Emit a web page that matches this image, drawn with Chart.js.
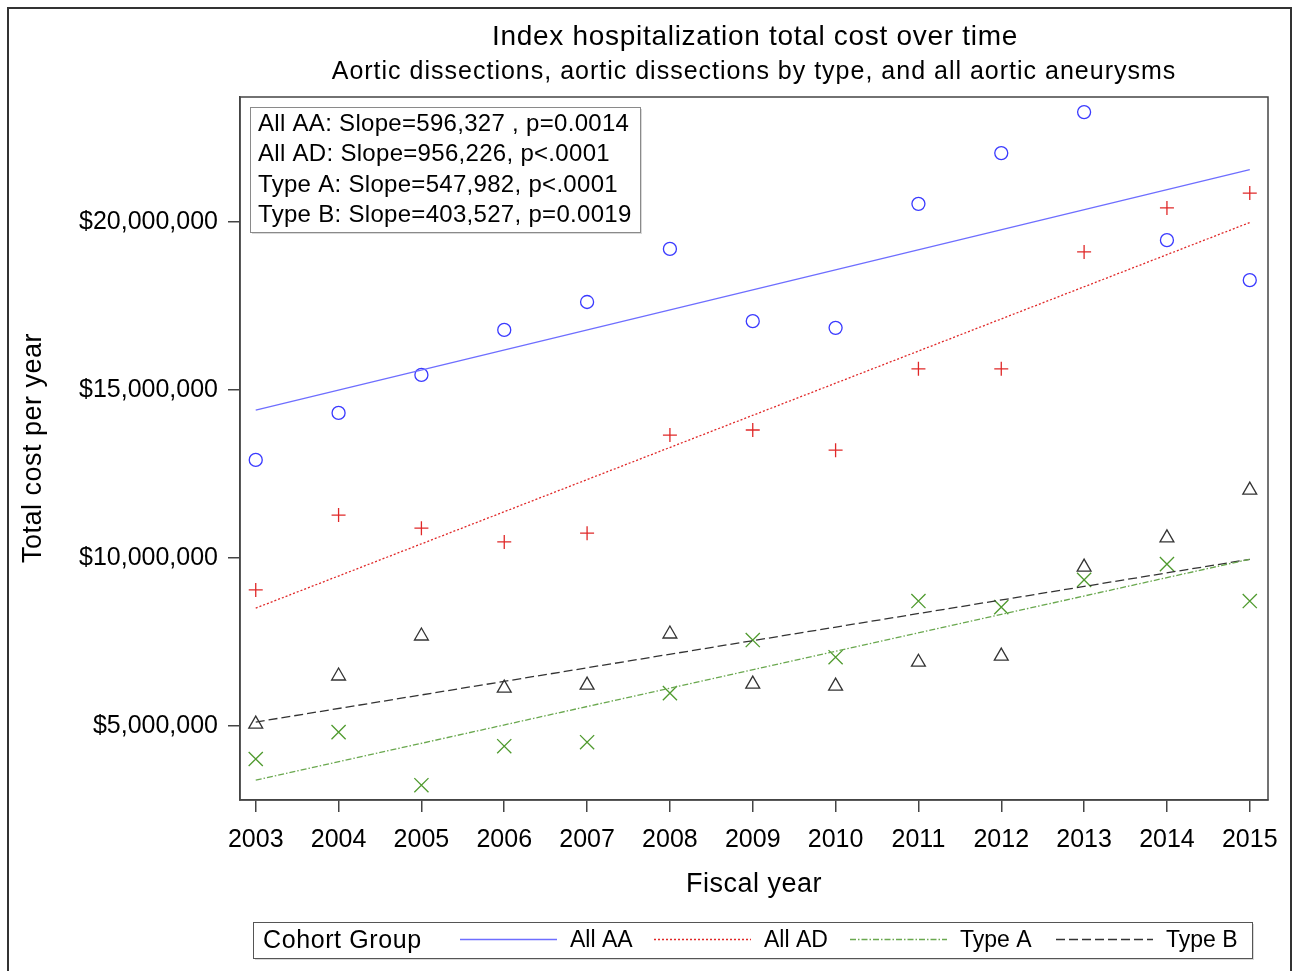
<!DOCTYPE html>
<html>
<head>
<meta charset="utf-8">
<script src="https://cdn.jsdelivr.net/npm/chart.js@4.4.1/dist/chart.umd.min.js"></script>
<style>
  html, body { margin: 0; padding: 0; background: #fff; }
  #wrap { width: 1293px; height: 971px; position: relative; }
</style>
</head>
<body>
<div id="wrap"><canvas id="costChart" width="1293" height="971"></canvas></div>
<script>
// values
const years = [2003, 2004, 2005, 2006, 2007, 2008, 2009, 2010, 2011, 2012, 2013, 2014, 2015];
const allAA = [12.92, 14.32, 15.45, 16.79, 17.62, 19.2, 17.05, 16.85, 20.54, 22.05, 23.27, 19.46, 18.27];
const allAD = [9.05, 11.28, 10.89, 10.48, 10.74, 13.66, 13.81, 13.21, 15.63, 15.63, 19.11, 20.42, 20.86];
const typeA = [4.02, 4.82, 3.24, 4.4, 4.52, 5.98, 7.56, 7.05, 8.72, 8.54, 9.35, 9.82, 8.72];
const typeB = [5.06, 6.49, 7.68, 6.13, 6.22, 7.74, 6.25, 6.19, 6.9, 7.08, 9.73, 10.6, 12.02];

// fitted lines: value at 2003 (millions) and slope per year (from the annotation)
const fitStart = { allAA: 14.4, allAD: 8.51, typeA: 3.39, typeB: 5.12 };
const fitSlope = { allAA: 596327, allAD: 956226, typeA: 547982, typeB: 403527 };

const yTicks = [5000000, 10000000, 15000000, 20000000];
const statsLines = [
    'All AA: Slope=596,327 , p=0.0014',
    'All AD: Slope=956,226, p<.0001',
    'Type A: Slope=547,982, p<.0001',
    'Type B: Slope=403,527, p=0.0019'
];
const legendTitle = 'Cohort Group';
const groupNames = ['All AA', 'All AD', 'Type A', 'Type B'];

const FONT = '"Liberation Sans", Arial, sans-serif';
const colors = {
    allAA: { point: '#3a3aff', line: '#6e6eff', dash: [] },
    allAD: { point: '#e02828', line: '#e02828', dash: [2, 2] },
    typeA: { point: '#4f9a2e', line: '#6aa84f', dash: [6, 2, 1.5, 2] },
    typeB: { point: '#333333', line: '#333333', dash: [9, 4] }
};

function toPoints(vals) {
    return vals.map((v, i) => ({ x: years[i], y: v * 1000000 }));
}

function fitLine(key) {
    let first = years[0], last = years[years.length - 1];
    let y0 = fitStart[key] * 1000000;
    return [
        { x: first, y: y0 },
        { x: last, y: y0 + fitSlope[key] * (last - first) }
    ];
}

function pointSet(label, key, vals, style, radius) {
    return {
        label: label,
        data: toPoints(vals),
        showLine: false,
        pointStyle: style,
        pointRadius: radius,
        pointBorderWidth: 1.3,
        borderColor: colors[key].point,
        backgroundColor: 'rgba(0,0,0,0)'
    };
}

function lineSet(label, key) {
    return {
        label: label + ' fit',
        data: fitLine(key),
        showLine: true,
        pointRadius: 0,
        borderWidth: 1.3,
        borderColor: colors[key].line,
        borderDash: colors[key].dash,
        fill: false
    };
}

const datasets = [
    lineSet('All AA', 'allAA'),
    lineSet('All AD', 'allAD'),
    lineSet('Type A', 'typeA'),
    lineSet('Type B', 'typeB'),
    pointSet('All AA', 'allAA', allAA, 'circle', 6.5),
    pointSet('All AD', 'allAD', allAD, 'cross', 7),
    pointSet('Type A', 'typeA', typeA, 'crossRot', 10),
    pointSet('Type B', 'typeB', typeB, 'triangle', 8)
];

// frame, titles, stats box and legend drawn on the canvas
const decorations = {
    id: 'decorations',
    afterDraw(chart) {
        let ctx = chart.ctx;
        let area = chart.chartArea;
        ctx.save();

        // outer figure border
        ctx.strokeStyle = '#333';
        ctx.lineWidth = 2;
        ctx.beginPath();
        ctx.moveTo(8, 975);
        ctx.lineTo(8, 8);
        ctx.lineTo(1291, 8);
        ctx.lineTo(1291, 975);
        ctx.stroke();

        // plot frame
        ctx.strokeStyle = '#444';
        ctx.lineWidth = 1.5;
        ctx.strokeRect(area.left, area.top, area.right - area.left, area.bottom - area.top);

        // titles
        ctx.fillStyle = '#000';
        ctx.textAlign = 'center';
        ctx.textBaseline = 'middle';
        ctx.letterSpacing = '0.7px';
        ctx.font = '28px ' + FONT;
        ctx.fillText('Index hospitalization total cost over time', 755, 37);
        ctx.letterSpacing = '1px';
        ctx.font = '25px ' + FONT;
        ctx.fillText('Aortic dissections, aortic dissections by type, and all aortic aneurysms', 754, 72);

        // axis titles
        ctx.letterSpacing = '0.5px';
        ctx.font = '27px ' + FONT;
        ctx.fillText('Fiscal year', 754, 885);
        ctx.save();
        ctx.translate(34, 448);
        ctx.rotate(-Math.PI / 2);
        ctx.fillText('Total cost per year', 0, 0);
        ctx.restore();

        // stats box
        ctx.fillStyle = 'rgba(0,0,0,0.15)';
        ctx.fillRect(252, 109, 390, 125);
        ctx.fillStyle = '#fff';
        ctx.fillRect(250, 107, 390, 125);
        ctx.strokeStyle = '#8a8a8a';
        ctx.lineWidth = 1;
        ctx.strokeRect(250.5, 107.5, 390, 125);
        ctx.fillStyle = '#000';
        ctx.textAlign = 'left';
        ctx.letterSpacing = '0.3px';
        ctx.font = '24px ' + FONT;
        statsLines.forEach((t, i) => ctx.fillText(t, 258, 124 + i * 30.5));

        // legend
        ctx.fillStyle = 'rgba(0,0,0,0.15)';
        ctx.fillRect(255, 924, 999, 36);
        ctx.fillStyle = '#fff';
        ctx.fillRect(253, 922, 999, 36);
        ctx.strokeStyle = '#555';
        ctx.strokeRect(253.5, 922.5, 999, 36);
        ctx.fillStyle = '#000';
        ctx.letterSpacing = '0.6px';
        ctx.font = '25px ' + FONT;
        ctx.fillText(legendTitle, 263, 941);
        ctx.letterSpacing = '0px';
        ctx.font = '23px ' + FONT;
        let keys = ['allAA', 'allAD', 'typeA', 'typeB'];
        let sampleX = [460, 654, 850, 1056];
        keys.forEach((k, i) => {
            ctx.strokeStyle = colors[k].line;
            ctx.lineWidth = 1.3;
            ctx.setLineDash(colors[k].dash);
            ctx.beginPath();
            ctx.moveTo(sampleX[i], 939.5);
            ctx.lineTo(sampleX[i] + 97, 939.5);
            ctx.stroke();
            ctx.setLineDash([]);
            ctx.fillStyle = '#000';
            ctx.fillText(groupNames[i], sampleX[i] + 110, 941);
        });

        ctx.restore();
    }
};

let ctx = document.getElementById('costChart').getContext('2d');
new Chart(ctx, {
    type: 'scatter',
    data: { datasets: datasets },
    plugins: [decorations],
    options: {
        responsive: false,
        animation: false,
        layout: { padding: { left: 0, top: 97, right: 25, bottom: 0 } },
        plugins: {
            legend: { display: false },
            tooltip: { enabled: false },
            title: { display: false }
        },
        scales: {
            x: {
                type: 'linear',
                min: 2002.81,
                max: 2015.22,
                afterBuildTicks: (scale) => { scale.ticks = years.map(v => ({ value: v })); },
                afterFit: (scale) => { scale.height = 171; },
                grid: { display: true, drawOnChartArea: false, drawTicks: true, tickLength: 12, color: '#444', lineWidth: 1.5 },
                border: { display: true, color: '#444', width: 1.5 },
                ticks: {
                    color: '#000',
                    font: { family: FONT, size: 25 },
                    padding: 13,
                    maxRotation: 0,
                    autoSkip: false,
                    callback: (v) => String(v)
                }
            },
            y: {
                type: 'linear',
                min: 2800000,
                max: 23720000,
                afterBuildTicks: (scale) => { scale.ticks = yTicks.map(v => ({ value: v })); },
                afterFit: (scale) => { scale.width = 240; },
                grid: { display: true, drawOnChartArea: false, drawTicks: true, tickLength: 12, color: '#444', lineWidth: 1.5 },
                border: { display: true, color: '#444', width: 1.5 },
                ticks: {
                    color: '#000',
                    font: { family: FONT, size: 25 },
                    padding: 10,
                    callback: (v) => '$' + Number(v).toLocaleString('en-US')
                }
            }
        }
    }
});
</script>
</body>
</html>
